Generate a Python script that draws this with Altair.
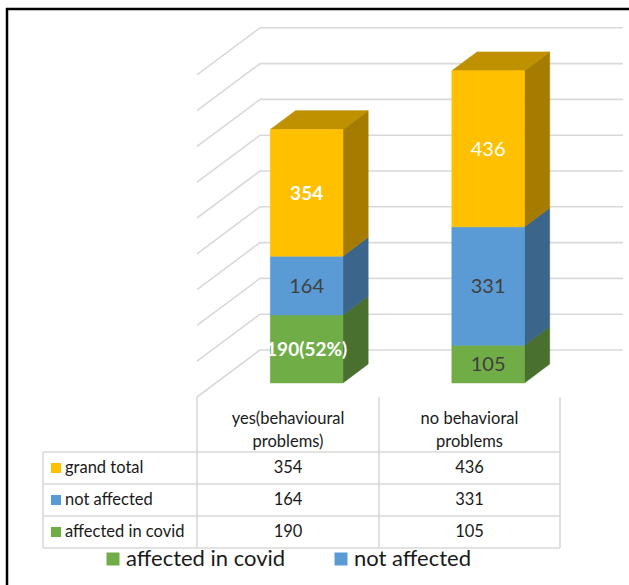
import altair as alt
import pandas as pd

W, H = 629, 585

# ---- data ----
CATEGORIES = ["yes(behavioural problems)", "no behavioral problems"]
HEADER_LINES = [["yes(behavioural", "problems)"], ["no behavioral", "problems"]]
SERIES = ["affected in covid", "not affected", "grand total"]
AFFECTED = [190, 105]
NOT_AFFECTED = [164, 331]
GRAND_TOTAL = [354, 436]
BAR_LABELS = [["190(52%)", "164", "354"], ["105", "331", "436"]]
GRID_VALUES = [0, 100, 200, 300, 400, 500, 600, 700, 800, 900]
LEGEND_SERIES = ["affected in covid", "not affected"]

# ---- styles ----
FONT = "Lato"
FRONT = ["#70AD47", "#5B9BD5", "#FFC000"]
SIDE = ["#49702E", "#3B658A", "#A67C00"]
TOP = ["#557F35", "#44749F", "#BF9000"]
GRID = "#D9D9D9"
TEXT = "#1A1A1A"
LABEL_DARK = "#404040"
# per bar, per series: (colour, weight)
LABEL_STYLE = [
    [("white", "bold"), (LABEL_DARK, "normal"), ("white", "bold")],
    [(LABEL_DARK, "normal"), (LABEL_DARK, "normal"), ("white", "normal")],
]
LABEL_SIZE = {"bold": 19, "normal": 20}

# ---- 3-D layout of the plot area ----
CAT_LEFT_PX = 197       # front-left corner of the floor
CAT_PX = 181.5          # width of one category on the floor
ZERO_PX = 397           # floor front edge
PX_PER_UNIT = 0.358
DEPTH_PX = (63, 47)     # oblique projection of the full depth
BAR_FRACTION = 0.4
BAR_Z = (0.3, 0.7)

DX = DEPTH_PX[0] / CAT_PX
DY = DEPTH_PX[1] / PX_PER_UNIT

x_plot = alt.Scale(domain=[-CAT_LEFT_PX / CAT_PX, (W - CAT_LEFT_PX) / CAT_PX],
                   range=[0, W], nice=False, zero=False)
y_plot = alt.Scale(domain=[(ZERO_PX - H) / PX_PER_UNIT, ZERO_PX / PX_PER_UNIT],
                   range=[H, 0], nice=False, zero=False)
x_px = alt.Scale(domain=[0, W], range=[0, W], nice=False, zero=False)
y_px = alt.Scale(domain=[0, H], range=[0, H], nice=False, zero=False)

# ---- wall gridlines ----
grid = pd.DataFrame({"v": GRID_VALUES})
grid["xb"] = DX
grid["xe"] = 2 + DX
grid["yb"] = grid["v"] + DY
grid["xf"] = 0.0

back_lines = alt.Chart(grid).mark_rule(color=GRID, strokeWidth=1.6).encode(
    x=alt.X("xb:Q", scale=x_plot, axis=None),
    x2="xe:Q",
    y=alt.Y("yb:Q", scale=y_plot, axis=None),
)
side_lines = alt.Chart(grid).mark_rule(color=GRID, strokeWidth=1.6).encode(
    x=alt.X("xf:Q", scale=x_plot, axis=None),
    x2="xb:Q",
    y=alt.Y("v:Q", scale=y_plot, axis=None),
    y2="yb:Q",
)

# ---- stacked 3-D columns ----
values = [AFFECTED, NOT_AFFECTED, GRAND_TOTAL]
z0, z1 = BAR_Z
bd = z1 - z0
fronts, sides, tops = [], [], []
for i, cat in enumerate(CATEGORIES):
    base = 0
    for s, name in enumerate(SERIES):
        v = values[s][i]
        x0 = i + (1 - BAR_FRACTION) / 2 + z0 * DX
        x1 = x0 + BAR_FRACTION
        y0 = base + z0 * DY
        y1 = base + v + z0 * DY
        color, weight = LABEL_STYLE[i][s]
        fronts.append(dict(cat=cat, series=name, x0=x0, x1=x1, y0=y0, y1=y1,
                           xm=(x0 + x1) / 2, ym=(y0 + y1) / 2,
                           label=BAR_LABELS[i][s], tone=color, weight=weight))
        face = f"{i}-{s}"
        sides.append(dict(face=face, series=name, x=x1, top=y1, bot=y0))
        sides.append(dict(face=face, series=name, x=x1 + bd * DX,
                          top=y1 + bd * DY, bot=y0 + bd * DY))
        if s == len(SERIES) - 1:
            tops.append(dict(face=face, series=name, y=y1, xl=x0, xr=x1))
            tops.append(dict(face=face, series=name, y=y1 + bd * DY,
                             xl=x0 + bd * DX, xr=x1 + bd * DX))
        base += v

fronts = pd.DataFrame(fronts)
sides = pd.DataFrame(sides)
tops = pd.DataFrame(tops)

side_faces = alt.Chart(sides).mark_area(orient="vertical", strokeWidth=0.6).encode(
    x=alt.X("x:Q", scale=x_plot, axis=None),
    y=alt.Y("top:Q", scale=y_plot, axis=None),
    y2="bot:Q",
    detail="face:N",
    color=alt.Color("series:N", scale=alt.Scale(domain=SERIES, range=SIDE), legend=None),
    stroke=alt.Stroke("series:N", scale=alt.Scale(domain=SERIES, range=SIDE), legend=None),
)
top_faces = alt.Chart(tops).mark_area(orient="horizontal", strokeWidth=0.6).encode(
    y=alt.Y("y:Q", scale=y_plot, axis=None),
    x=alt.X("xl:Q", scale=x_plot, axis=None),
    x2="xr:Q",
    detail="face:N",
    color=alt.Color("series:N", scale=alt.Scale(domain=SERIES, range=TOP), legend=None),
    stroke=alt.Stroke("series:N", scale=alt.Scale(domain=SERIES, range=TOP), legend=None),
)
front_faces = alt.Chart(fronts).mark_rect(strokeWidth=0.6).encode(
    x=alt.X("x0:Q", scale=x_plot, axis=None),
    x2="x1:Q",
    y=alt.Y("y0:Q", scale=y_plot, axis=None),
    y2="y1:Q",
    color=alt.Color("series:N", scale=alt.Scale(domain=SERIES, range=FRONT), legend=None),
    stroke=alt.Stroke("series:N", scale=alt.Scale(domain=SERIES, range=FRONT), legend=None),
)


def bar_labels(tone, weight):
    sub = fronts[(fronts["tone"] == tone) & (fronts["weight"] == weight)]
    return alt.Chart(sub).mark_text(font=FONT, fontSize=LABEL_SIZE[weight],
                                    fontWeight=weight, color=tone,
                                    baseline="middle", dy=1).encode(
        x=alt.X("xm:Q", scale=x_plot, axis=None),
        y=alt.Y("ym:Q", scale=y_plot, axis=None),
        text="label:N",
    )


labels = [bar_labels("white", "bold"), bar_labels("white", "normal"),
          bar_labels(LABEL_DARK, "normal")]

# ---- data table under the plot ----
COL_X = [43, 197, 379, 560]
ROW_Y = [452, 484, 516, 548]
HEADER_Y = [419, 442]
TABLE_SIZE = 16.5
lines = []
for y in ROW_Y:
    lines.append(dict(x=COL_X[0], x2=COL_X[-1], y=y, y2=y))
lines.append(dict(x=COL_X[0], x2=COL_X[0], y=ROW_Y[0], y2=ROW_Y[-1]))
for x in COL_X[1:]:
    lines.append(dict(x=x, x2=x, y=ZERO_PX, y2=ROW_Y[-1]))
lines = pd.DataFrame(lines)

table_lines = alt.Chart(lines).mark_rule(color=GRID, strokeWidth=1.6).encode(
    x=alt.X("x:Q", scale=x_px, axis=None), x2="x2:Q",
    y=alt.Y("y:Q", scale=y_px, axis=None), y2="y2:Q",
)

cells = []
for i, header in enumerate(HEADER_LINES):
    cx = (COL_X[i + 1] + COL_X[i + 2]) / 2
    for k, line in enumerate(header):
        cells.append(dict(x=cx, y=HEADER_Y[k], text=line))
row_order = [2, 1, 0]  # grand total on top
row_labels = []
for r, s in enumerate(row_order):
    cy = (ROW_Y[r] + ROW_Y[r + 1]) / 2
    for i in range(len(CATEGORIES)):
        cx = (COL_X[i + 1] + COL_X[i + 2]) / 2
        cells.append(dict(x=cx, y=cy, text=str(values[s][i])))
    row_labels.append(dict(x=COL_X[0] + 22, y=cy, mx=COL_X[0] + 13,
                           text=SERIES[s], series=SERIES[s]))
cells = pd.DataFrame(cells)
row_labels = pd.DataFrame(row_labels)

table_text = alt.Chart(cells).mark_text(font=FONT, fontSize=TABLE_SIZE, color=TEXT,
                                        baseline="middle").encode(
    x=alt.X("x:Q", scale=x_px, axis=None),
    y=alt.Y("y:Q", scale=y_px, axis=None),
    text="text:N",
)
row_text = alt.Chart(row_labels).mark_text(font=FONT, fontSize=TABLE_SIZE, color=TEXT,
                                           align="left", baseline="middle").encode(
    x=alt.X("x:Q", scale=x_px, axis=None),
    y=alt.Y("y:Q", scale=y_px, axis=None),
    text="text:N",
)
row_keys = alt.Chart(row_labels).mark_square(size=100, opacity=1).encode(
    x=alt.X("mx:Q", scale=x_px, axis=None),
    y=alt.Y("y:Q", scale=y_px, axis=None),
    color=alt.Color("series:N", scale=alt.Scale(domain=SERIES, range=FRONT), legend=None),
)

# ---- legend along the bottom ----
LEGEND_X = [113, 341]
LEGEND_Y = 559
legend = pd.DataFrame({"series": LEGEND_SERIES, "mx": LEGEND_X,
                       "tx": [x + 13 for x in LEGEND_X], "y": [LEGEND_Y] * 2})
legend_keys = alt.Chart(legend).mark_square(size=169, opacity=1).encode(
    x=alt.X("mx:Q", scale=x_px, axis=None),
    y=alt.Y("y:Q", scale=y_px, axis=None),
    color=alt.Color("series:N", scale=alt.Scale(domain=SERIES, range=FRONT), legend=None),
)
legend_text = alt.Chart(legend).mark_text(font=FONT, fontSize=22, color=TEXT,
                                          align="left", baseline="middle").encode(
    x=alt.X("tx:Q", scale=x_px, axis=None),
    y=alt.Y("y:Q", scale=y_px, axis=None),
    text="series:N",
)

# ---- outer frame ----
frame_top = alt.Chart(pd.DataFrame({"a": [0]})).mark_rule(color="black", strokeWidth=2.5).encode(
    x=alt.value(6), x2=alt.value(W), y=alt.value(9), y2=alt.value(9))
frame_left = alt.Chart(pd.DataFrame({"a": [0]})).mark_rule(color="black", strokeWidth=2.5).encode(
    x=alt.value(7), x2=alt.value(7), y=alt.value(8), y2=alt.value(H))

chart = alt.layer(
    back_lines, side_lines, side_faces, top_faces, front_faces, *labels,
    table_lines, table_text, row_text, row_keys, legend_keys, legend_text,
    frame_top, frame_left,
).resolve_scale(
    x="independent", y="independent", color="independent", stroke="independent"
).properties(
    width=W, height=H, padding=0, autosize=alt.AutoSizeParams(type="none"),
    background="white",
).configure_view(stroke=None)

chart.save("out.html", embed_options={"renderer": "svg", "actions": False})
